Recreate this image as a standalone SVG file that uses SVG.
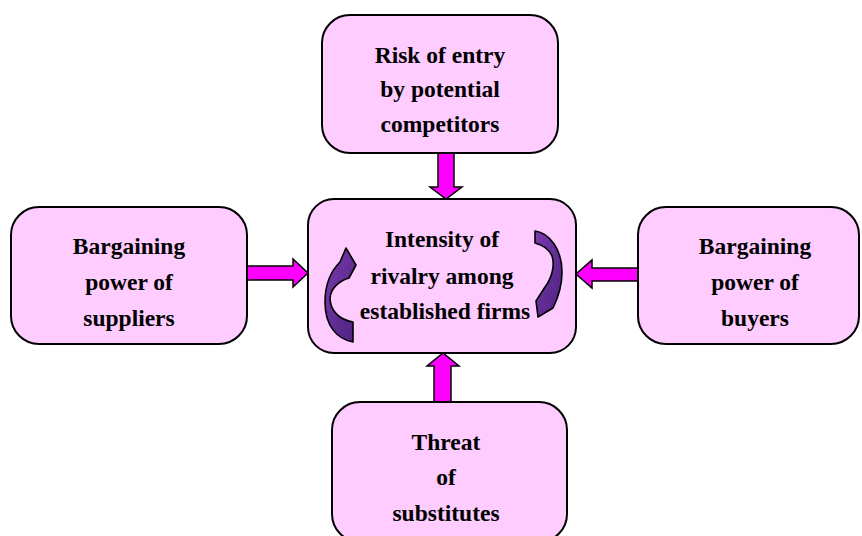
<svg xmlns="http://www.w3.org/2000/svg" width="862" height="536" viewBox="0 0 862 536">
<defs>
<style>
.box{fill:#ffccff;stroke:#000;stroke-width:2}
.arr{fill:#ff00ff;stroke:#000;stroke-width:1.5;stroke-linejoin:miter}
.cur{fill:url(#pg);stroke:#000;stroke-width:1.6;stroke-linejoin:round}
text{font-family:"Liberation Serif","Times New Roman",serif;font-weight:bold;font-size:23.5px;fill:#000;text-anchor:middle}
</style>
<linearGradient id="pg" x1="0" y1="0" x2="1" y2="1">
<stop offset="0" stop-color="#7a3aae"/>
<stop offset="1" stop-color="#4e2280"/>
</linearGradient>
</defs>
<g id="connectors">
<polygon class="arr" points="438,153 454,153 454,187 462,187 446,199 430,187 438,187"/>
<polygon class="arr" points="247,266 293,266 293,259 308,273 293,287 293,280 247,280"/>
<polygon class="arr" points="638,268 592,268 592,260 576,274 592,288 592,281 638,281"/>
<polygon class="arr" points="434,402 451,402 451,366 459,366 443,353 427,366 434,366"/>
</g>
<g id="node-top">
<rect class="box" x="322" y="15" width="236" height="138" rx="28"/>
<text x="440" y="63">Risk of entry</text>
<text x="440" y="97">by potential</text>
<text x="440" y="132">competitors</text>
</g>
<g id="node-left">
<rect class="box" x="11" y="207" width="236" height="137" rx="28"/>
<text x="129" y="254">Bargaining</text>
<text x="129" y="290">power of</text>
<text x="129" y="326">suppliers</text>
</g>
<g id="node-right">
<rect class="box" x="638" y="207" width="221" height="137" rx="28"/>
<text x="755" y="254">Bargaining</text>
<text x="755" y="290">power of</text>
<text x="755" y="326">buyers</text>
</g>
<g id="node-bottom">
<rect class="box" x="332" y="402" width="235" height="140" rx="28"/>
<text x="446" y="450">Threat</text>
<text x="446" y="485">of</text>
<text x="446" y="521">substitutes</text>
</g>
<g id="node-center">
<rect class="box" x="308" y="199" width="268" height="154" rx="26"/>
<text x="442" y="247">Intensity of</text>
<text x="442" y="284">rivalry among</text>
<text x="445" y="319">established firms</text>
<path class="cur" d="M 353 342 C 337 339, 325 326, 325 302 C 325 285, 331 271, 340 262 L 346 248 L 356 265 L 349 278 C 339 281, 331 288, 330 298 C 330 311, 340 320, 353 322 Z"/>
<path class="cur" d="M 535 231 C 550 233, 562 250, 562 272 C 562 289, 557 300, 553 308 L 538 317 L 536 301 L 545 287 C 552 278, 555 265, 552 256 C 549 249, 543 245, 535 243 Z"/>
</g>
</svg>
